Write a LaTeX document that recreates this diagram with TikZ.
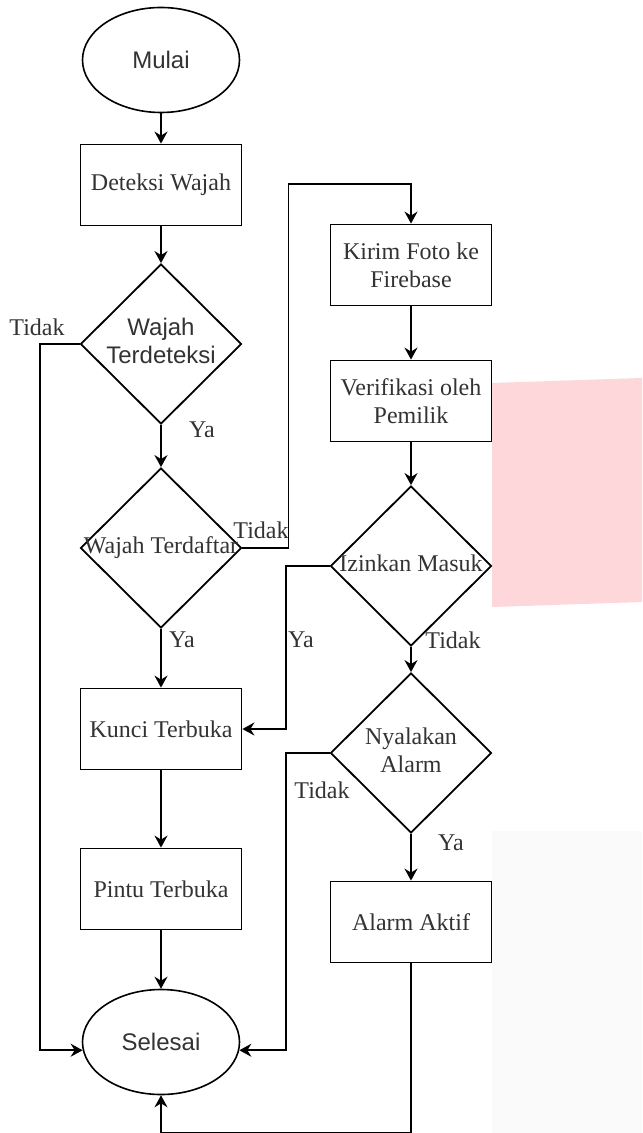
\documentclass[tikz,border=0pt]{standalone}
\usepackage{fontspec}
\setmainfont{Liberation Serif}
\setsansfont{Liberation Sans}
\usetikzlibrary{shapes.geometric,arrows.meta}
\definecolor{blush}{RGB}{254,215,218}
\definecolor{haze}{RGB}{250,250,250}
\newcommand{\dtxt}[1]{\makebox[0pt]{\begin{tabular}{@{}c@{}}#1\end{tabular}}}

\begin{document}
\begin{tikzpicture}[x=0.5pt,y=-0.5pt,>={Stealth[length=6pt,width=6.5pt,inset=2pt]},font=\fontsize{12pt}{14pt}\selectfont]
        \tikzstyle{terminal}=[ellipse, draw, line width=0.8pt, minimum width=78.5pt, minimum height=52.5pt, font=\fontsize{12pt}{14pt}\selectfont\sffamily, text=black!80]
        \tikzstyle{process}=[rectangle, draw, line width=0.9pt, minimum width=80.5pt, minimum height=40.5pt, align=center, text=black!80]
        \tikzstyle{decision}=[diamond, draw, line width=0.9pt, minimum width=80.5pt, minimum height=80pt, inner sep=0pt, text=black!80]
        \tikzstyle{flow}=[->, line width=0.9pt]
        \tikzstyle{answer}=[text=black!80]
        \useasboundingbox (0,0) rectangle (642,1133);
        \fill[white] (0,0) rectangle (642,1133);
        \fill[blush] (492,383) -- (642,378) -- (642,602) -- (492,607) -- cycle;
        \fill[haze] (492,831) rectangle (642,1133);
        % left column
        \node[terminal] (mulai) at (161,60) {Mulai};
        \node[process] (deteksi) at (161,185) {Deteksi Wajah};
        \node[decision, font=\fontsize{12pt}{14pt}\selectfont\sffamily] (cekwajah) at (161,344) {\raisebox{-2.5pt}{\dtxt{Wajah\\Terdeteksi}}};
        \node[decision] (cekdaftar) at (161,548) {\dtxt{Wajah Terdaftar}};
        \node[process] (kunci) at (161,729) {Kunci Terbuka};
        \node[process] (pintu) at (161,889) {Pintu Terbuka};
        \node[terminal] (selesai) at (161,1042) {Selesai};
        % right column
        \node[process] (kirim) at (411,265) {Kirim Foto ke\\Firebase};
        \node[process] (verif) at (411,401) {Verifikasi oleh\\Pemilik};
        \node[decision] (izin) at (411,566) {\dtxt{Izinkan Masuk}};
        \node[decision] (nyala) at (411,753) {\raisebox{-2pt}{\dtxt{Nyalakan\\Alarm}}};
        \node[process] (alarm) at (411,922) {Alarm Aktif};
        % connectors
        \draw[flow] (mulai) -- (deteksi);
        \draw[flow] (deteksi) -- (cekwajah);
        \draw[flow] (cekwajah.west) -- ++(-40,0) |- (selesai.186);
        \draw[flow] (cekwajah) -- (cekdaftar);
        \draw[flow] (cekdaftar.east) -- ++(46,0) -- ++(0,-364) -| (kirim.north);
        \draw[flow] (cekdaftar) -- (kunci);
        \draw[flow] (kunci) -- (pintu);
        \draw[flow] (pintu) -- (selesai);
        \draw[flow] (kirim) -- (verif);
        \draw[flow] (verif) -- (izin);
        \draw[flow] (izin.west) -- ++(-44,0) |- (kunci.east);
        \draw[flow] (izin) -- (nyala);
        \draw[flow] (nyala.west) -- ++(-44,0) |- (selesai.354);
        \draw[flow] (nyala) -- (alarm);
        \draw[flow] (alarm.south) -- ++(0,169) -| (selesai.south);
        % answers
        \node[answer] (t1) at (37,327) {Tidak};
        \node[answer] (y1) at (202,430) {Ya};
        \node[answer] (t2) at (261,530) {Tidak};
        \node[answer] (y2) at (182,640) {Ya};
        \node[answer] (y3) at (301,640) {Ya};
        \node[answer] (t3) at (453,640) {Tidak};
        \node[answer] (t4) at (322,790) {Tidak};
        \node[answer] (y4) at (451,843) {Ya};
\end{tikzpicture}
\end{document}
